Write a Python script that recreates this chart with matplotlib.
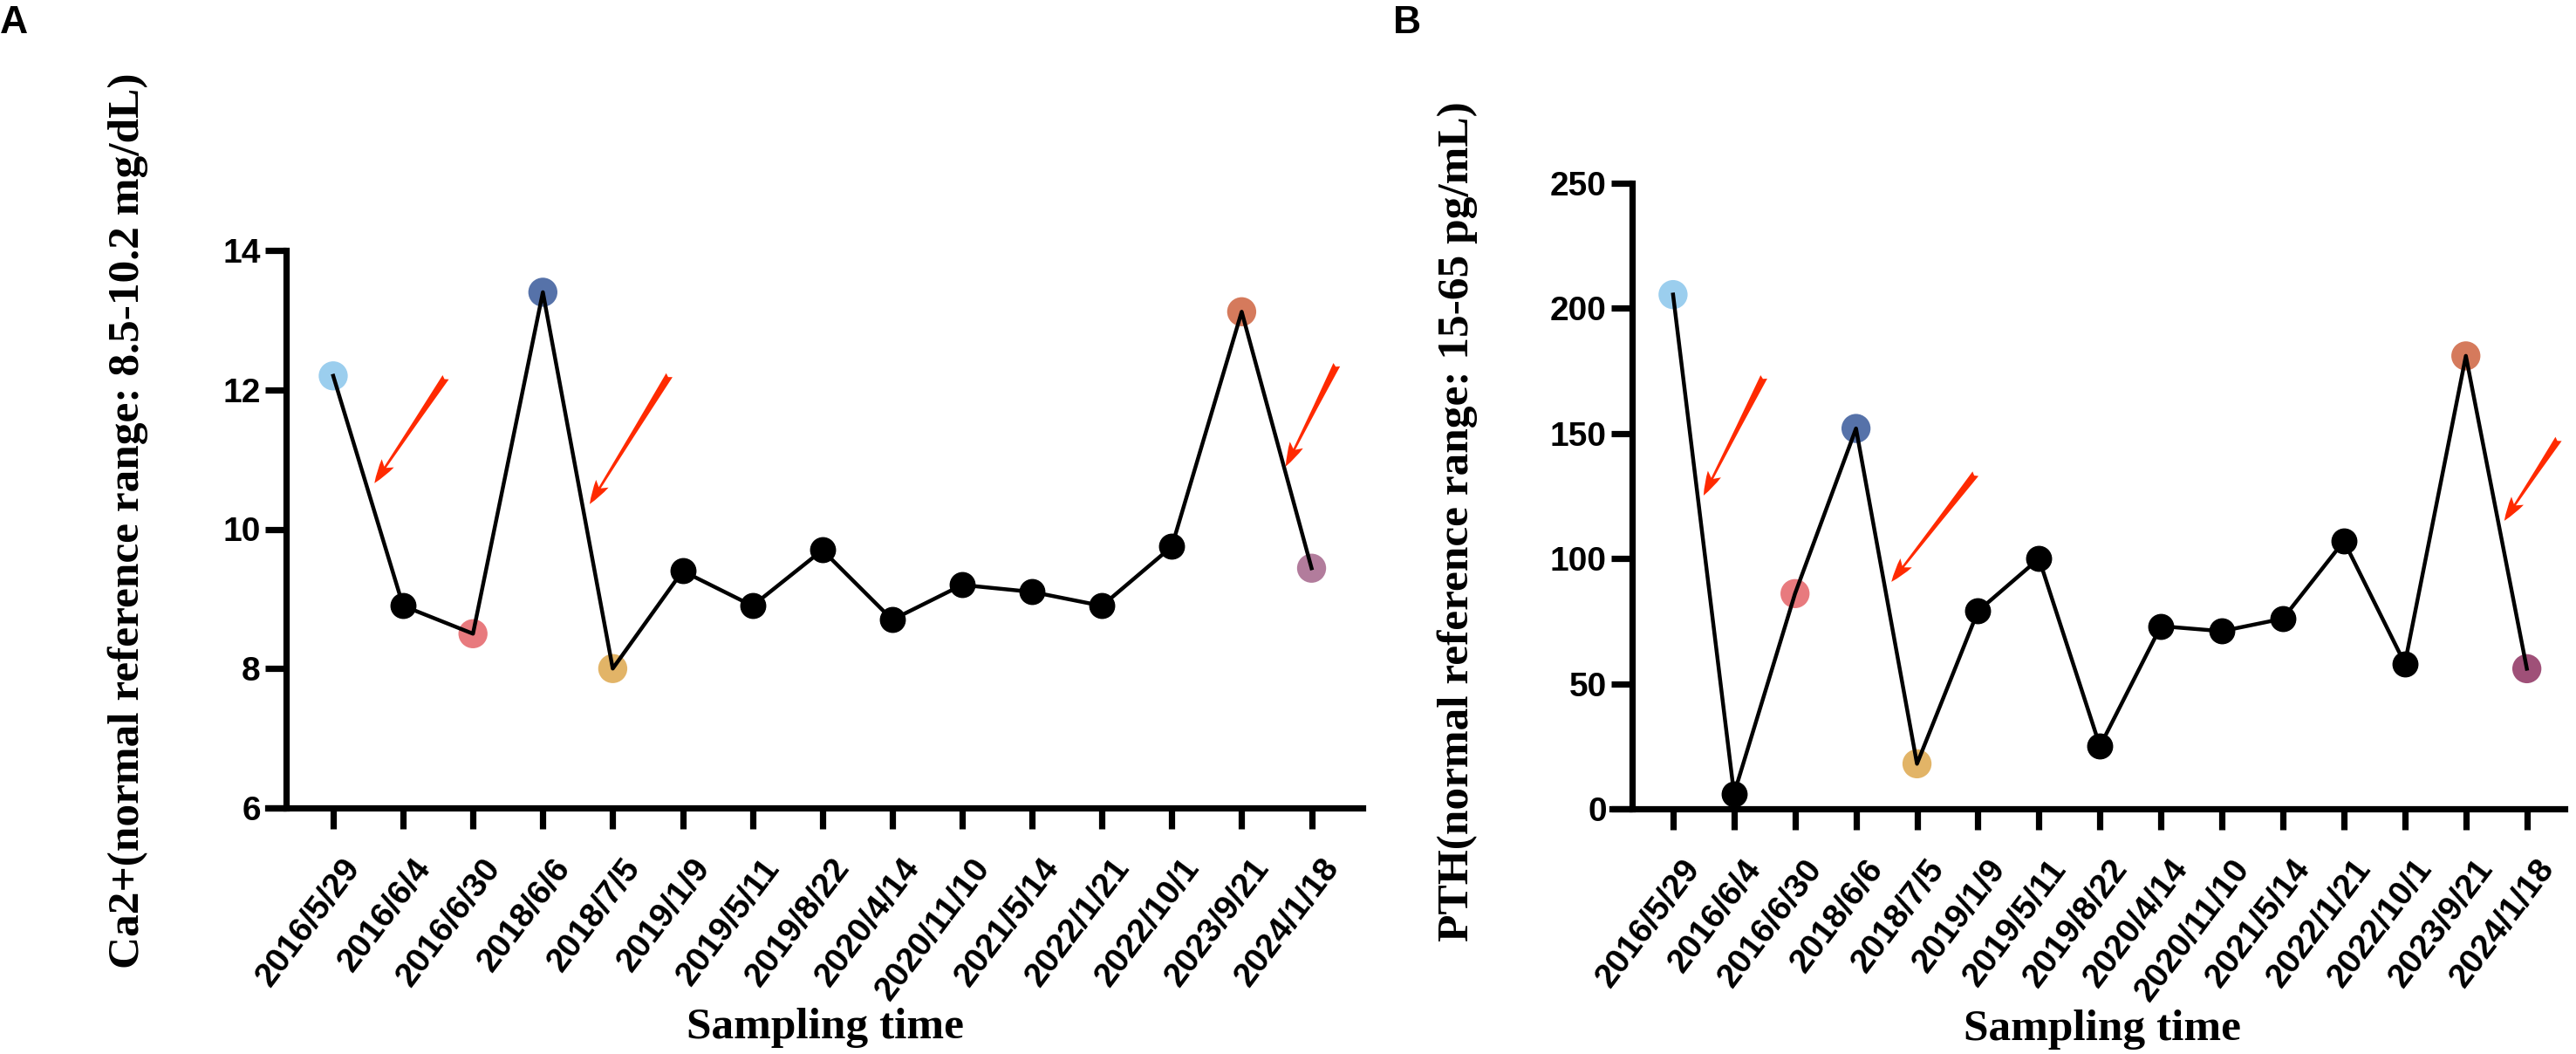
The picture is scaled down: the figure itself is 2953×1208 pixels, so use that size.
import matplotlib.pyplot as plt
from matplotlib.transforms import ScaledTranslation

# sampling dates (same for both panels)
dates = ['2016/5/29', '2016/6/4', '2016/6/30', '2018/6/6', '2018/7/5', '2019/1/9',
         '2019/5/11', '2019/8/22', '2020/4/14', '2020/11/10', '2021/5/14', '2022/1/21',
         '2022/10/1', '2023/9/21', '2024/1/18']

# panel A: serum calcium (mg/dL)
ca_values = [12.2, 8.9, 8.5, 13.4, 8.0, 9.4, 8.9, 9.7, 8.7, 9.2, 9.1, 8.9, 9.75, 13.12, 9.44]
# panel B: PTH (pg/mL)
pth_values = [205.5, 6, 86, 152, 18, 79, 100, 25, 73, 71, 76, 107, 58, 181, 56]

# highlighted points: index -> colour
highlight_a = {0: '#9BCEEE', 2: '#E87A7E', 3: '#5672A9', 4: '#E2B467', 13: '#D57A5C', 14: '#B27C9C'}
highlight_b = {0: '#9BCEEE', 2: '#E87A7E', 3: '#5672A9', 4: '#E2B467', 13: '#D57A5C', 14: '#9F5078'}

# red arrows (tail x, tail y, head x, head y) in data units
arrows_a = [(1.61, 12.18, 0.59, 10.66), (4.81, 12.21, 3.67, 10.36), (14.36, 12.36, 13.63, 10.9)]
arrows_b = [(1.49, 172.6, 0.50, 125.2), (4.96, 133.9, 3.58, 90.7), (14.52, 147.8, 13.63, 115.1)]

W, H = 2953, 1208
fig = plt.figure(figsize=(W / 100, H / 100), dpi=100)

tick_font = dict(family='Liberation Sans', weight='bold')
label_font = dict(family='Liberation Serif', weight='bold', size=37)


def draw_panel(rect, values, highlight, arrows, ylim, yticks, ylabel, xlim, spine_x,
               xlabel_xy, ylabel_xy):
    ax = fig.add_axes(rect)
    x = list(range(len(values)))
    hx = list(highlight.keys())
    ax.scatter(hx, [values[i] for i in hx], s=24 ** 2, c=[highlight[i] for i in hx],
               zorder=2, clip_on=False, linewidths=0)
    ax.plot(x, values, color='black', lw=3.2, zorder=3, clip_on=False)
    bx = [i for i in x if i not in highlight]
    ax.plot(bx, [values[i] for i in bx], 'o', color='black', ms=20.5, zorder=4,
            clip_on=False)
    for tx, ty, hx_, hy in arrows:
        ax.annotate('', xy=(hx_, hy), xytext=(tx, ty),
                    arrowprops=dict(arrowstyle='fancy,head_length=0.9,head_width=0.55,tail_width=0.28',
                                    color='#FF2A00', lw=0, shrinkA=0, shrinkB=0,
                                    mutation_scale=22), zorder=5)
    ax.set_xlim(*xlim)
    ax.set_ylim(*ylim)
    ax.spines['left'].set_position(('data', spine_x))
    ax.spines['left'].set_bounds(ylim[0], ylim[1])
    for s in ['top', 'right']:
        ax.spines[s].set_visible(False)
    for s in ['left', 'bottom']:
        ax.spines[s].set_linewidth(5.2)
    ax.set_yticks(yticks)
    ax.set_yticklabels([str(t) for t in yticks], fontsize=28, **tick_font)
    ax.set_xticks(x)
    ax.set_xticklabels(dates, fontsize=28, **tick_font)
    ax.tick_params(axis='both', width=5.2, length=17, direction='out')
    ax.tick_params(axis='y', pad=4)
    ax.tick_params(axis='x', pad=20)
    off = ScaledTranslation(10 / 100, 0, fig.dpi_scale_trans)
    for lab in ax.get_xticklabels():
        lab.set_rotation(53)
        lab.set_ha('right')
        lab.set_va('top')
        lab.set_rotation_mode('anchor')
        lab.set_transform(lab.get_transform() + off)
    ax.set_xlabel('Sampling time', **label_font)
    ax.xaxis.label.set_va('center')
    ax.xaxis.set_label_coords(*xlabel_xy)
    ax.set_ylabel(ylabel, **label_font)
    ax.yaxis.label.set_va('center')
    ax.yaxis.set_label_coords(*ylabel_xy)
    return ax


draw_panel([307 / W, 1 - 926 / H, (1562 - 307) / W, (926 - 287) / H],
           ca_values, highlight_a, arrows_a, (6, 14), [6, 8, 10, 12, 14],
           'Ca2+(normal reference range: 8.5-10.2 mg/dL)',
           (-0.936, 14.73), -0.675, (0.509, -0.394), (-0.128, 0.516))

draw_panel([1848 / W, 1 - 927 / H, (2940 - 1848) / W, (927 - 210) / H],
           pth_values, highlight_b, arrows_b, (0, 250), [0, 50, 100, 150, 200, 250],
           'PTH(normal reference range: 15-65 pg/mL)',
           (-1.0, 14.62), -0.672, (0.515, -0.353), (-0.162, 0.460))

fig.text(0, 1 - 6 / H, 'A', ha='left', va='top', fontsize=32, **tick_font)
fig.text(1597 / W, 1 - 6 / H, 'B', ha='left', va='top', fontsize=32, **tick_font)

fig.savefig('out.png', dpi=100)
